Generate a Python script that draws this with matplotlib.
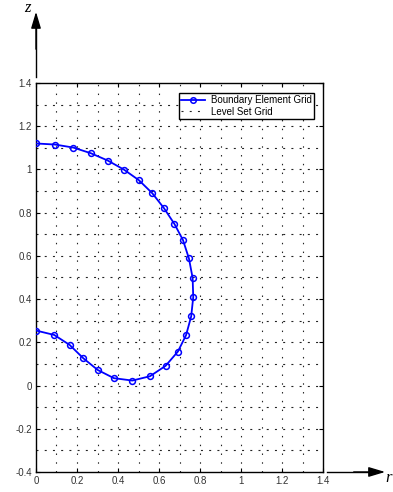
import numpy as np
import matplotlib.pyplot as plt
from matplotlib.lines import Line2D

# Boundary element nodes along the bubble surface (r, z)
be_r = [0.0, 0.093, 0.182, 0.267, 0.35, 0.429, 0.502, 0.567, 0.624, 0.675,
        0.717, 0.746, 0.764, 0.767, 0.757, 0.732, 0.692, 0.632, 0.556, 0.470,
        0.380, 0.301, 0.231, 0.164, 0.089, 0.002]
be_z = [1.120, 1.115, 1.101, 1.075, 1.041, 0.999, 0.950, 0.890, 0.821, 0.748,
        0.673, 0.588, 0.498, 0.409, 0.320, 0.233, 0.157, 0.091, 0.043, 0.023,
        0.034, 0.072, 0.126, 0.188, 0.234, 0.254]

# Level set grid lines
grid_r = np.round(np.arange(0.1, 1.31, 0.1), 2)
grid_z = np.round(np.arange(-0.3, 1.31, 0.1), 2)

xticks = [0, 0.2, 0.4, 0.6, 0.8, 1, 1.2, 1.4]
yticks = [-0.4, -0.2, 0, 0.2, 0.4, 0.6, 0.8, 1, 1.2, 1.4]

plt.rcParams['font.family'] = ['Liberation Sans', 'DejaVu Sans']

fig = plt.figure(figsize=(3.93, 4.92), dpi=100)
ax = fig.add_axes([0.0916, 0.0407, 0.7303, 0.7907])

grid_col = '#222222'
for r in grid_r:
    ax.axvline(r, color=grid_col, lw=0.8, dashes=(1.3, 6.6), zorder=1)
for z in grid_z:
    ax.axhline(z, color=grid_col, lw=0.8, dashes=(1.8, 5.6), zorder=1)

ax.plot(be_r, be_z, '-o', color='#0000ff', lw=1.3, ms=4.2, mfc='none',
        mec='#0000ff', mew=1.1, zorder=3)

ax.set_xlim(0, 1.4)
ax.set_ylim(-0.4, 1.4)
ax.set_xticks(xticks)
ax.set_yticks(yticks)
ax.set_xticklabels(['0', '0.2', '0.4', '0.6', '0.8', '1', '1.2', '1.4'])
ax.set_yticklabels(['-0.4', '-0.2', '0', '0.2', '0.4', '0.6', '0.8', '1', '1.2', '1.4'])
ax.tick_params(direction='in', length=3, width=0.8, labelsize=7,
               labelcolor='#333333', top=True, right=True, pad=3)
for s in ax.spines.values():
    s.set_linewidth(1.0)

handles = [
    Line2D([], [], color='#0000ff', marker='o', ms=4, mfc='none', lw=1.3, mew=1.1),
    Line2D([], [], color=grid_col, lw=0.8, dashes=(1.8, 5.6)),
]
leg = ax.legend(handles, ['Boundary Element Grid', 'Level Set Grid'],
                loc='upper right', bbox_to_anchor=(0.975, 0.98), fontsize=7,
                fancybox=False, framealpha=1, edgecolor='black',
                handlelength=2.4, borderpad=0.25, labelspacing=0.15,
                handletextpad=0.6, borderaxespad=0.2)
leg.get_frame().set_linewidth(1.0)

# axis arrows outside the axes
fig.add_artist(plt.Line2D([0.0916, 0.0916], [0.8435, 0.95], color='black', lw=1.0))
ax.annotate('', xy=(0.0916, 0.976), xytext=(0.0916, 0.90), xycoords='figure fraction',
            arrowprops=dict(arrowstyle='-|>,head_length=1.0,head_width=0.3',
                            color='black', lw=1.0, shrinkA=0, shrinkB=0))
fig.add_artist(plt.Line2D([0.832, 0.95], [0.0407, 0.0407], color='black', lw=1.0))
ax.annotate('', xy=(0.98, 0.0407), xytext=(0.90, 0.0407), xycoords='figure fraction',
            arrowprops=dict(arrowstyle='-|>,head_length=1.0,head_width=0.3',
                            color='black', lw=1.0, shrinkA=0, shrinkB=0))
fig.text(0.071, 0.984, 'z', fontsize=12, style='italic', family='Liberation Serif',
         ha='center', va='center')
fig.text(0.99, 0.028, 'r', fontsize=12, style='italic', family='Liberation Serif',
         ha='center', va='center')

fig.savefig('out.png', dpi=100)
